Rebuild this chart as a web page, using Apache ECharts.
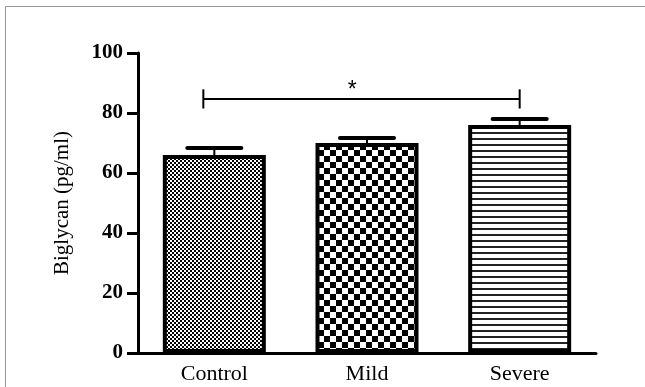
<!DOCTYPE html>
<html><head><meta charset="utf-8">
<script src="https://cdn.jsdelivr.net/npm/echarts@6/dist/echarts.min.js"></script>
<style>html,body{margin:0;padding:0;background:#fff}#c{width:645px;height:387px}</style>
</head><body><div id="c"></div>
<script>
const categories = ['Control', 'Mild', 'Severe'];
const means = [66, 70, 76];
const errTops = [68.3, 71.7, 78];
const yTicks = [0, 20, 40, 60, 80, 100];
const sigFrom = 0, sigTo = 2, sigLevel = 84.7, sigLabel = '*';

function checker(cell) {
  const c = document.createElement('canvas');
  c.width = cell * 2; c.height = cell * 2;
  const g = c.getContext('2d');
  g.fillStyle = '#fff'; g.fillRect(0, 0, c.width, c.height);
  g.fillStyle = '#000';
  g.fillRect(0, 0, cell, cell); g.fillRect(cell, cell, cell, cell);
  return c;
}
function hlines(period, w) {
  const c = document.createElement('canvas');
  c.width = 8; c.height = period;
  const g = c.getContext('2d');
  g.fillStyle = '#fff'; g.fillRect(0, 0, 8, period);
  g.fillStyle = '#222'; g.fillRect(0, 0, 8, w);
  return c;
}
const patterns = [checker(2), checker(6), hlines(6, 2)];

const chart = echarts.init(document.getElementById('c'), null, {renderer: 'canvas'});
const serif = 'Liberation Serif, Times New Roman, serif';
chart.setOption({
  animation: false,
  backgroundColor: '#fff',
  graphic: [{
    type: 'rect', shape: {x: 5.5, y: 6.5, width: 700, height: 500},
    style: {fill: 'none', stroke: '#999', lineWidth: 1}, silent: true, z: -1
  }],
  grid: {left: 138, right: 49, top: 53, bottom: 34},
  xAxis: {
    type: 'category', data: categories,
    axisLine: {lineStyle: {color: '#000', width: 3}},
    axisTick: {alignWithLabel: true, length: 10, lineStyle: {color: '#000', width: 3}},
    axisLabel: {color: '#000', fontFamily: serif, fontSize: 22, margin: 10}
  },
  yAxis: {
    type: 'value', min: yTicks[0], max: yTicks[yTicks.length - 1], interval: 20,
    name: 'Biglycan (pg/ml)', nameLocation: 'middle', nameGap: 65, nameRotate: 90,
    nameTextStyle: {color: '#000', fontFamily: serif, fontSize: 21},
    splitLine: {show: false},
    axisLine: {show: true, lineStyle: {color: '#000', width: 3}},
    axisTick: {show: true, length: 11, lineStyle: {color: '#000', width: 3}},
    axisLabel: {color: '#000', fontFamily: serif, fontSize: 21, fontWeight: 'bold', margin: 15}
  },
  series: [{
    type: 'bar', barWidth: 103,
    data: means.map((v, i) => ({value: v, itemStyle: {color: {image: patterns[i], repeat: 'repeat'}}})),
    itemStyle: {borderColor: '#000', borderWidth: 4},
    z: 2
  }, {
    type: 'custom',
    data: means.map((v, i) => [i, v, errTops[i]]),
    renderItem: function (params, api) {
      const base = api.coord([api.value(0), api.value(1)]);
      const top = api.coord([api.value(0), api.value(2)]);
      const half = api.size([1, 0])[0] * 0.177;
      return {type: 'group', children: [
        {type: 'line', shape: {x1: base[0], y1: base[1], x2: top[0], y2: top[1]}, style: {stroke: '#000', lineWidth: 2}},
        {type: 'line', shape: {x1: top[0] - half, y1: top[1], x2: top[0] + half, y2: top[1]}, style: {stroke: '#000', lineWidth: 4, lineCap: 'round'}}
      ]};
    },
    z: 3
  }, {
    type: 'custom',
    data: [[sigFrom, sigTo, sigLevel]],
    renderItem: function (params, api) {
      const band = api.size([1, 0])[0];
      const a = api.coord([api.value(0), api.value(2)]);
      const b = api.coord([api.value(1), api.value(2)]);
      const x1 = a[0] - band * 0.072, x2 = b[0];
      const y = a[1];
      const h = api.size([0, 3.2])[1];
      const mid = (x1 + x2) / 2 - band * 0.06;
      return {type: 'group', children: [
        {type: 'line', shape: {x1: x1, y1: y, x2: x2, y2: y}, style: {stroke: '#000', lineWidth: 2}},
        {type: 'line', shape: {x1: x1, y1: y - h, x2: x1, y2: y + h}, style: {stroke: '#000', lineWidth: 2}},
        {type: 'line', shape: {x1: x2, y1: y - h, x2: x2, y2: y + h}, style: {stroke: '#000', lineWidth: 2}},
        {type: 'text', x: mid, y: y - 8, style: {text: sigLabel, fill: '#000', font: '23px Liberation Sans, Arial, sans-serif', align: 'center', verticalAlign: 'middle'}}
      ]};
    },
    z: 3
  }]
});
</script></body></html>
